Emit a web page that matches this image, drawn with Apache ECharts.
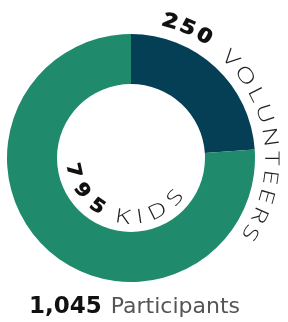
<!DOCTYPE html>
<html>
<head>
<meta charset="utf-8">
<script src="https://cdn.jsdelivr.net/npm/echarts@6/dist/echarts.min.js"></script>
<style>
  html, body { margin: 0; padding: 0; background: #fff; }
  #chart { width: 288px; height: 322px; }
</style>
</head>
<body>
<div id="chart"></div>
<script>
// data
const groups = ['VOLUNTEERS', 'KIDS'];
const counts = [250, 795];
const colors = ['#053f56', '#1f8a6c'];
const totalLabel = 'Participants';

const total = counts.reduce((a, b) => a + b, 0);
const cx = 131, cy = 158;

// measure text width for curved labels
const ctx = document.createElement('canvas').getContext('2d');
function measure(ch, font) {
  ctx.font = font;
  return ctx.measureText(ch).width;
}

// place characters along an arc, first/last char centre at fromDeg/toDeg
// angles: clockwise from 12 o'clock. inside = text reads along bottom, tops to centre
// sx = horizontal stretch of the glyphs (source font is wider than what we have)
function arcText(str, fromDeg, toDeg, r, size, weight, family, fill, inside, sx) {
  const font = weight + ' ' + size + 'px "' + family + '"';
  const chars = str.split('');
  const w = chars.map(c => measure(c, font) * sx);
  const W = w.reduce((a, b) => a + b, 0);
  const L = Math.abs(toDeg - fromDeg) * Math.PI / 180 * r;
  const gap = chars.length > 1 ? (L - (W - w[0] / 2 - w[w.length - 1] / 2)) / (chars.length - 1) : 0;
  const dir = toDeg > fromDeg ? 1 : -1;
  let pos = 0;
  const els = [];
  chars.forEach((c, i) => {
    if (i > 0) pos += w[i - 1] / 2 + gap + w[i] / 2;
    const a = (fromDeg * Math.PI / 180) + dir * pos / r;
    els.push({
      type: 'text',
      x: cx + r * Math.sin(a),
      y: cy - r * Math.cos(a),
      rotation: inside ? Math.PI - a : -a,
      scaleX: sx,
      silent: true,
      style: {
        text: c,
        font: font,
        fill: fill,
        align: 'center',
        verticalAlign: 'middle'
      }
    });
  });
  return els;
}

const graphics = [].concat(
  arcText(String(counts[0]), 16, 31, 142, 21, 900, 'Open Sans', '#111', false, 1.25),
  arcText(groups[0], 45, 122, 140, 20, 300, 'Open Sans', '#222', false, 1.35),
  arcText(String(counts[1]), 258, 215, 59, 20, 900, 'Open Sans', '#111', true, 1.2),
  arcText(groups[1], 188, 132, 60, 20, 300, 'Open Sans', '#222', true, 1.3)
);

const chart = echarts.init(document.getElementById('chart'));
chart.setOption({
  animation: false,
  backgroundColor: '#fff',
  title: {
    text: '{b|' + total.toLocaleString('en-US') + '}{n|' + totalLabel + '}',
    left: 29,
    top: 296,
    padding: 0,
    textStyle: {
      rich: {
        b: { fontSize: 23, fontWeight: 'bold', fontFamily: 'DejaVu Sans', color: '#111' },
        n: { fontSize: 22, fontWeight: 'normal', fontFamily: 'DejaVu Sans', color: '#555', padding: [0, 0, 0, 9] }
      }
    }
  },
  graphic: graphics,
  series: [{
    type: 'pie',
    radius: [74, 124],
    center: [cx, cy],
    startAngle: 90,
    clockwise: true,
    silent: true,
    label: { show: false },
    labelLine: { show: false },
    data: groups.map((g, i) => ({
      name: g,
      value: counts[i],
      itemStyle: { color: colors[i] }
    }))
  }]
});
</script>
</body>
</html>
